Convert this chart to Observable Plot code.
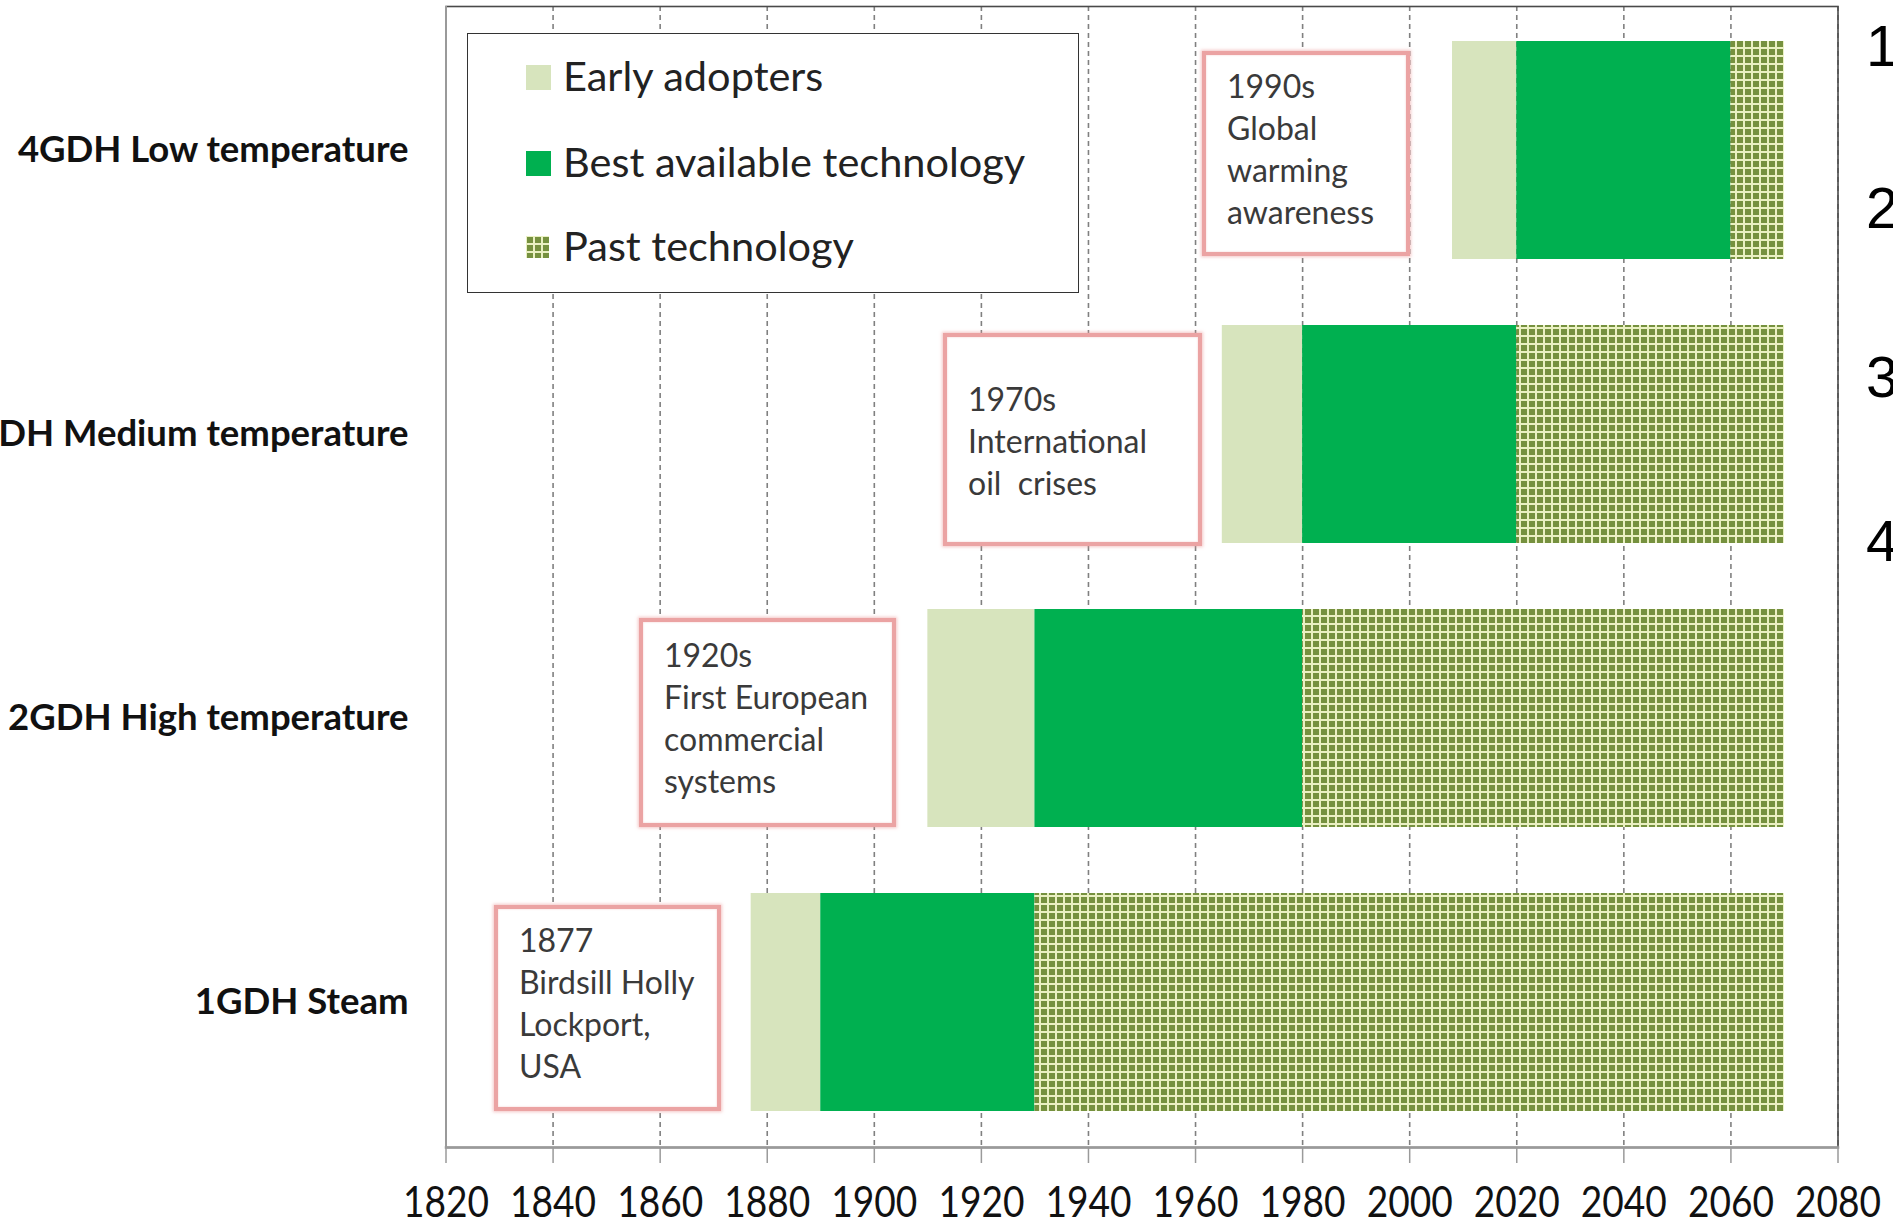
<!DOCTYPE html>
<html>
<head>
<meta charset="utf-8">
<script src="https://cdn.jsdelivr.net/npm/d3@7"></script>
<script src="https://cdn.jsdelivr.net/npm/@observablehq/plot@0.6"></script>
<style>
  html, body { margin: 0; padding: 0; overflow: hidden; background: white; }
  #wrap { position: relative; width: 1893px; height: 1225px; overflow: hidden; }
  #wrap svg { position: absolute; left: 0; top: 0; }
  .legend { position: absolute; background: white; border: 1.5px solid #333; box-sizing: border-box; }
  .legend .item { position: absolute; font-family: Lato, sans-serif; font-size: 41.5px; color: #222; white-space: nowrap; line-height: 1; }
  .legend .sw { position: absolute; }
  .note { position: absolute; background: white; border: 4px solid #eba3a3; box-sizing: border-box;
          box-shadow: 0 0 3px 1px rgba(235,150,150,0.55), inset 0 0 2px rgba(235,150,150,0.5);
          display: flex; flex-direction: column; justify-content: center; padding: 0 0 10px 21px;
          font-family: Lato, sans-serif; font-size: 32px; line-height: 42px; color: #3a3a3a; white-space: pre; }
  .gen { position: absolute; font-family: "Liberation Sans", Arial, sans-serif; font-size: 58px; color: #000; line-height: 1; }
</style>
</head>
<body>
<div id="wrap"></div>
<script>
// ---- data ----
const generations = ["1GDH Steam", "2GDH High temperature", "3GDH Medium temperature", "4GDH Low temperature"];
const earlyStart = [1877, 1910, 1965, 2008];
const bestStart  = [1890, 1930, 1980, 2020];
const pastStart  = [1930, 1980, 2020, 2060];
const pastEnd    = [2070, 2070, 2070, 2070];
const phases = ["Early adopters", "Best available technology", "Past technology"];
const phaseColors = ["#d7e4bd", "#00b050", "url(#pastPattern)"];
const xTicks = [1820, 1840, 1860, 1880, 1900, 1920, 1940, 1960, 1980, 2000, 2020, 2040, 2060, 2080];
const noteTexts = [
  "1877\nBirdsill Holly\nLockport,\nUSA",
  "1920s\nFirst European\ncommercial\nsystems",
  "1970s\nInternational\noil  crises",
  "1990s\nGlobal\nwarming\nawareness"
];
const sideNumbers = ["1", "2", "3", "4"];

// ---- table for the library ----
const segments = [];
generations.forEach((g, i) => {
  segments.push({generation: g, phase: phases[0], start: earlyStart[i], end: bestStart[i]});
  segments.push({generation: g, phase: phases[1], start: bestStart[i], end: pastStart[i]});
  segments.push({generation: g, phase: phases[2], start: pastStart[i], end: pastEnd[i]});
});

const chart = Plot.plot({
  width: 1893,
  height: 1225,
  marginLeft: 445.5,
  marginRight: 55.5,
  marginTop: 6,
  marginBottom: 78,
  style: {background: "white", overflow: "visible"},
  x: {domain: [1820, 2080]},
  y: {domain: generations.slice().reverse(), paddingInner: 0.232, paddingOuter: 0.118},
  color: {domain: phases, range: phaseColors},
  marks: [
    Plot.gridX(xTicks, {stroke: "#808080", strokeOpacity: 1, strokeWidth: 1.6, strokeDasharray: "5,4"}),
    Plot.barX(segments, {x1: "start", x2: "end", y: "generation", fill: "phase"}),
    Plot.frame({stroke: "#4a4a4a", strokeWidth: 1.6}),
    Plot.ruleX([1820], {stroke: "#9a9a9a", strokeWidth: 2}),
    Plot.frame({anchor: "bottom", stroke: "#9a9a9a", strokeWidth: 2.5}),
    Plot.axisX(xTicks, {tickSize: 16, tickPadding: 23, stroke: "#9a9a9a", strokeWidth: 1.5, fontSize: 43,
      fontFamily: "Lato, sans-serif", fill: "#111", label: null, tickFormat: d => String(d)}),
    Plot.axisY({tickSize: 0, tickPadding: 37.5, fontSize: 36.5, fontWeight: "bold", fontFamily: "Lato, sans-serif",
      fill: "#111", label: null})
  ]
});

d3.select(chart).insert("defs", ":first-child").html(
  '<pattern id="pastPattern" patternUnits="userSpaceOnUse" width="8" height="8">' +
  '<rect width="8" height="8" fill="#eaf0c2"/>' +
  '<rect x="1" y="1" width="6" height="6" fill="#76913f"/></pattern>'
);

// condensed look of the year labels
d3.select(chart).selectAll('g[aria-label="x-axis tick label"] text')
  .attr("textLength", 86).attr("lengthAdjust", "spacingAndGlyphs");

const wrap = document.getElementById("wrap");
wrap.appendChild(chart);

// ---- legend (inside the plot frame) ----
const legend = document.createElement("div");
legend.className = "legend";
Object.assign(legend.style, {left: "467px", top: "33px", width: "612px", height: "260px"});
const legendRows = [44, 130, 214];
phases.forEach((p, i) => {
  const sw = document.createElementNS("http://www.w3.org/2000/svg", "svg");
  sw.setAttribute("class", "sw");
  sw.setAttribute("width", 25);
  sw.setAttribute("height", 25);
  sw.style.left = "58px";
  sw.style.top = (legendRows[i] - 13 + (i === 2 ? 1 : 0)) + "px";
  const r = document.createElementNS("http://www.w3.org/2000/svg", "rect");
  r.setAttribute("width", i === 2 ? 23 : 25);
  r.setAttribute("height", i === 2 ? 22 : 25);
  r.setAttribute("fill", phaseColors[i]);
  sw.appendChild(r);
  legend.appendChild(sw);
  const t = document.createElement("div");
  t.className = "item";
  t.textContent = p;
  t.style.left = "95px";
  t.style.top = (legendRows[i] - 23) + "px";
  legend.appendChild(t);
});
wrap.appendChild(legend);

// ---- annotation boxes ----
const noteBoxes = [
  [494, 905, 227, 206, 0],
  [639, 618, 257, 209, 0],
  [943, 333, 259, 213, 12],
  [1202, 51, 208, 205, 0]
];
noteTexts.forEach((txt, i) => {
  const d = document.createElement("div");
  d.className = "note";
  const [l, t, w, h, shift] = noteBoxes[i];
  Object.assign(d.style, {left: l + "px", top: t + "px", width: w + "px", height: h + "px"});
  if (shift) d.style.paddingTop = shift + "px";
  d.textContent = txt;
  wrap.appendChild(d);
});

// ---- cut-off numbering on right edge ----
const numTops = [17, 179, 348, 512];
sideNumbers.forEach((n, i) => {
  const d = document.createElement("div");
  d.className = "gen";
  d.textContent = n;
  d.style.left = "1866px";
  d.style.top = numTops[i] + "px";
  wrap.appendChild(d);
});
</script>
</body>
</html>
